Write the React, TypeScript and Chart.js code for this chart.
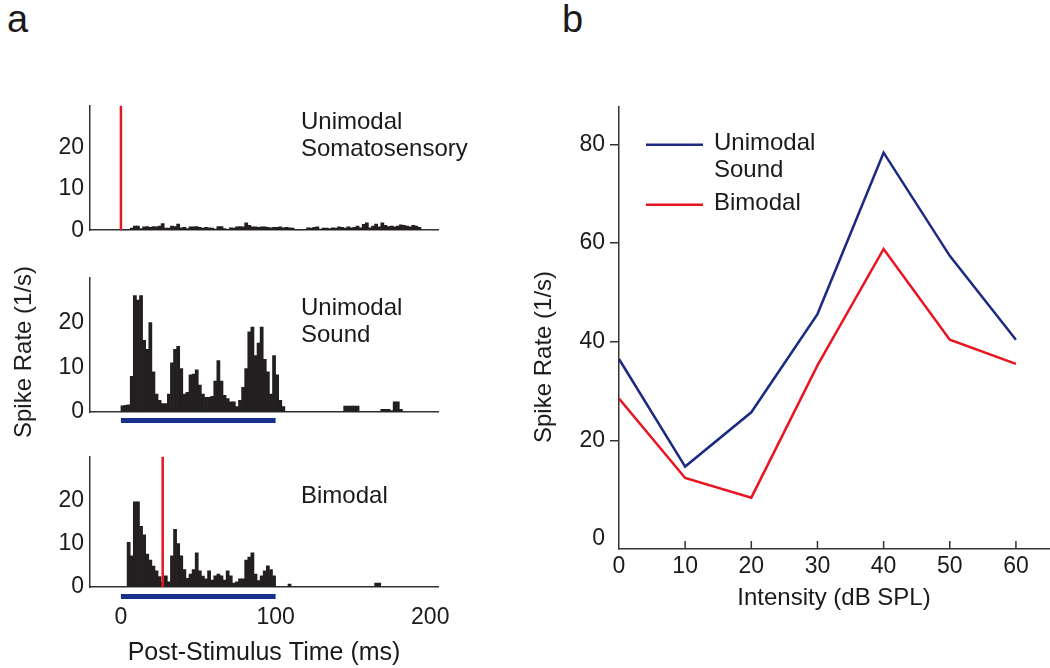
import React, { useEffect, useRef } from "react";
import { Chart, registerables } from "chart.js";
Chart.register(...registerables);

const FONT = "'Liberation Sans', Arial, Helvetica, sans-serif";
const TEXT = "#1a1a1a";
const AXIS = "#333333";
const BAR = "#231f20";
const RED = "#e8141f";
const NAVY = "#17308c";
const BLUE_LINE = "#1c2a82";

// ---------- Panel a: PSTHs (2 ms bins, first bin starts at 0 ms) ----------
const BIN_MS = 2;
const PSTH_SOMATO = [
  0, 0, 0, 0.5, 1.0, 1.0, 0.4, 0.8, 0.9, 0.7,
  0.9, 0.8, 1.0, 1.6, 0.5, 0.5, 1.0, 0.9, 1.5, 0.6,
  0.7, 0.4, 0.8, 0.8, 0.9, 0.7, 0.5, 0.7, 0.6, 0.5,
  0.3, 0.9, 0.9, 0.4, 0.2, 0.6, 0.5, 0.8, 0.9, 0.8,
  1.8, 1.2, 0.8, 0.8, 0.7, 0.8, 0.8, 0.7, 0.6, 0.7,
  0.7, 0.8, 0.6, 0.7, 0.6, 0.5, 0, 0, 0, 0.2,
  0.6, 0.5, 0.7, 0.8, 0.3, 0.5, 0.5, 0.4, 0.6, 0.5,
  0.8, 0.7, 0.5, 0.8, 0.6, 0.7, 1.0, 0.6, 1.4, 1.8,
  0.6, 1.0, 1.5, 0.8, 1.8, 1.2, 0.9, 1.0, 0.8, 1.0,
  1.3, 1.2, 1.0, 0.8, 1.2, 1.0, 0.7,
];
const PSTH_SOUND = [
  1.4, 1.5, 1.6, 8, 26, 25, 26, 16, 14, 20,
  9, 4, 2.6, 1.9, 1.9, 4, 11, 14, 14.7, 9.7,
  4, 4.4, 8.3, 8.5, 9.4, 6, 4, 3.3, 3.3, 3.5,
  6.9, 11.5, 6.9, 3.7, 3, 2.3, 2.3, 1.2, 2.6, 5.5,
  9.7, 17.9, 19, 12.6, 15.4, 19, 11.8, 9, 4, 12.6,
  8.3, 2.6, 1.2, 0, 0, 0, 0, 0, 0, 0,
  0, 0, 0, 0, 0, 0, 0, 0, 0, 0,
  0, 0, 1.3, 1.3, 1.3, 1.3, 1.3, 0, 0, 0,
  0, 0, 0, 0, 0.6, 0.6, 0.6, 0.3, 2.3, 2.3,
  0.6,
];
const PSTH_BIMODAL = [
  0, 0, 10.3, 7.2, 19.6, 19.6, 14, 12, 7.6, 6.2,
  4.8, 3.7, 2.4, 1.0, 2.6, 1.2, 7.2, 13.3, 10, 7.2,
  4, 2, 3, 4, 7.9, 3.7, 2.5, 1.9, 3.7, 1.6,
  2.6, 3, 2.6, 1.6, 3.7, 2.6, 0.9, 1.2, 1.9, 1.9,
  6.2, 6.9, 7.9, 3, 1.5, 2.6, 3.7, 4.9, 4, 2.6,
  0, 0, 0, 0, 0.7, 0, 0, 0, 0, 0,
  0, 0, 0, 0, 0, 0, 0, 0, 0, 0,
  0, 0, 0, 0, 0, 0, 0, 0, 0, 0,
  0, 0, 0.9, 0.9,
];
const PSTH_X_TICKS = [0, 100, 200];
const PSTH_Y_TICKS = [0, 10, 20];
const SOUND_STIM_MS = [0, 100];
const SOMATO_ONSET_SOMATO_PANEL = 0;
const SOMATO_ONSET_BIMODAL_PANEL = 27;

// ---------- Panel b: rate-level functions ----------
const INTENSITY_DB = [0, 10, 20, 30, 40, 50, 60];
const UNIMODAL_SOUND_RATE = [36.5, 14.7, 25.7, 45.6, 78.3, 57.4, 40.4];
const BIMODAL_RATE = [28.5, 12.4, 8.4, 35.2, 58.8, 40.4, 35.5];
const B_X_TICKS = [0, 10, 20, 30, 40, 50, 60];
const B_Y_TICKS = [0, 20, 40, 60, 80];

const psthDecor = {
  id: "psthDecor",
  afterDraw(chart: any, _args: any, opts: any) {
    const { ctx, chartArea, scales } = chart;
    const xs = scales.x;
    ctx.save();
    if (opts.marker !== null && opts.marker !== undefined) {
      const px = xs.getPixelForValue(opts.marker);
      ctx.strokeStyle = RED;
      ctx.lineWidth = 2.5;
      ctx.beginPath();
      ctx.moveTo(px, chartArea.top);
      ctx.lineTo(px, chartArea.bottom);
      ctx.stroke();
    }
    if (opts.stim) {
      const x0 = xs.getPixelForValue(opts.stim[0]);
      const x1 = xs.getPixelForValue(opts.stim[1]);
      ctx.fillStyle = NAVY;
      ctx.fillRect(x0, chartArea.bottom + opts.stimOffset, x1 - x0, 5);
    }
    if (opts.lines) {
      ctx.fillStyle = TEXT;
      ctx.font = `24px ${FONT}`;
      ctx.textBaseline = "middle";
      ctx.textAlign = "left";
      opts.lines.forEach((t: string, i: number) =>
        ctx.fillText(t, chartArea.left + opts.textDx, chartArea.top + opts.textDy + i * opts.lineGap)
      );
    }
    ctx.restore();
  },
};

function psthConfig(bins: number[], o: any): any {
  return {
    type: "bar",
    data: {
      datasets: [
        {
          data: bins.map((v, i) => ({ x: i * BIN_MS + BIN_MS / 2, y: v })),
          backgroundColor: BAR,
          borderWidth: 0,
          barPercentage: 1,
          categoryPercentage: 1,
        },
      ],
    },
    options: {
      animation: false,
      responsive: false,
      devicePixelRatio: 1,
      layout: { padding: { top: o.padTop, right: 92, left: 0, bottom: 0 } },
      plugins: {
        legend: { display: false },
        tooltip: { enabled: false },
        psthDecor: {
          marker: o.marker,
          stim: o.stim,
          stimOffset: o.stimOffset,
          lines: o.lines,
          textDx: 211,
          textDy: o.textDy,
          lineGap: 27,
        },
      },
      scales: {
        x: {
          type: "linear",
          min: -20,
          max: 205,
          offset: false,
          afterBuildTicks: (s: any) => {
            s.ticks = PSTH_X_TICKS.map((v) => ({ value: v }));
          },
          afterFit: (s: any) => {
            s.height = o.xAxisH;
          },
          grid: { display: true, drawOnChartArea: false, drawTicks: false },
          border: { display: true, color: AXIS, width: 1.5 },
          ticks: {
            display: o.showX,
            autoSkip: false,
            maxRotation: 0,
            padding: 17,
            color: TEXT,
            font: { family: FONT, size: 23 },
          },
          title: {
            display: o.showX,
            text: "Post-Stimulus Time (ms)",
            color: TEXT,
            font: { family: FONT, size: 25 },
            padding: { top: 0, bottom: 0 },
          },
        },
        y: {
          min: 0,
          max: 30,
          afterBuildTicks: (s: any) => {
            s.ticks = PSTH_Y_TICKS.map((v) => ({ value: v }));
          },
          afterFit: (s: any) => {
            s.width = 60;
          },
          grid: { display: true, drawOnChartArea: false, drawTicks: false },
          border: { display: true, color: AXIS, width: 1.5 },
          ticks: { padding: 6, color: TEXT, font: { family: FONT, size: 23 } },
        },
      },
    },
    plugins: [psthDecor],
  };
}

const bDecor = {
  id: "bDecor",
  afterDraw(chart: any) {
    const { ctx, chartArea, scales } = chart;
    ctx.save();
    // inside tick marks on x axis
    ctx.strokeStyle = AXIS;
    ctx.lineWidth = 1.5;
    B_X_TICKS.forEach((v) => {
      if (v === 0) return;
      const px = scales.x.getPixelForValue(v);
      ctx.beginPath();
      ctx.moveTo(px, chartArea.bottom);
      ctx.lineTo(px, chartArea.bottom - 8);
      ctx.stroke();
    });
    // legend
    const L = chartArea.left;
    const T = chartArea.top;
    const items = [
      { color: BLUE_LINE, y: 38, lines: ["Unimodal", "Sound"] },
      { color: RED, y: 98, lines: ["Bimodal"] },
    ];
    ctx.font = `24px ${FONT}`;
    ctx.textBaseline = "middle";
    ctx.textAlign = "left";
    items.forEach((it) => {
      ctx.strokeStyle = it.color;
      ctx.lineWidth = 2.5;
      ctx.beginPath();
      ctx.moveTo(L + 27, T + it.y);
      ctx.lineTo(L + 84, T + it.y);
      ctx.stroke();
      ctx.fillStyle = TEXT;
      it.lines.forEach((t, i) => ctx.fillText(t, L + 95, T + it.y - 1 + i * 27));
    });
    ctx.restore();
  },
};

function bConfig(): any {
  return {
    type: "line",
    data: {
      datasets: [
        {
          label: "Unimodal Sound",
          data: INTENSITY_DB.map((x, i) => ({ x, y: UNIMODAL_SOUND_RATE[i] })),
          borderColor: BLUE_LINE,
          borderWidth: 2.5,
          pointRadius: 0,
          tension: 0,
          fill: false,
        },
        {
          label: "Bimodal",
          data: INTENSITY_DB.map((x, i) => ({ x, y: BIMODAL_RATE[i] })),
          borderColor: RED,
          borderWidth: 2.5,
          pointRadius: 0,
          tension: 0,
          fill: false,
        },
      ],
    },
    options: {
      animation: false,
      responsive: false,
      devicePixelRatio: 1,
      layout: { padding: { top: 14, right: 1, left: 0, bottom: 0 } },
      plugins: { legend: { display: false }, tooltip: { enabled: false } },
      scales: {
        x: {
          type: "linear",
          min: 0,
          max: 65,
          afterBuildTicks: (s: any) => {
            s.ticks = B_X_TICKS.map((v) => ({ value: v }));
          },
          afterFit: (s: any) => {
            s.height = 119;
          },
          grid: { display: true, drawOnChartArea: false, drawTicks: false },
          border: { display: true, color: AXIS, width: 1.5 },
          ticks: {
            autoSkip: false,
            maxRotation: 0,
            padding: 4,
            color: TEXT,
            font: { family: FONT, size: 23 },
          },
          title: {
            display: true,
            text: "Intensity (dB SPL)",
            color: TEXT,
            font: { family: FONT, size: 24 },
            padding: { top: 0, bottom: 55 },
          },
        },
        y: {
          min: -2,
          max: 87.6,
          afterBuildTicks: (s: any) => {
            s.ticks = B_Y_TICKS.map((v) => ({ value: v }));
          },
          afterFit: (s: any) => {
            s.width = 59;
          },
          grid: {
            display: true,
            drawOnChartArea: false,
            drawTicks: true,
            tickLength: 9,
            lineWidth: 1.5,
            color: (c: any) => (c.tick && c.tick.value === 0 ? "rgba(0,0,0,0)" : AXIS),
          },
          border: { display: true, color: AXIS, width: 1.5 },
          ticks: { padding: 5, color: TEXT, font: { family: FONT, size: 23 } },
        },
      },
    },
    plugins: [bDecor],
  };
}

export default function App() {
  const somRef = useRef<HTMLCanvasElement>(null);
  const sndRef = useRef<HTMLCanvasElement>(null);
  const bimRef = useRef<HTMLCanvasElement>(null);
  const bRef = useRef<HTMLCanvasElement>(null);

  useEffect(() => {
    const charts = [
      new Chart(
        somRef.current as HTMLCanvasElement,
        psthConfig(PSTH_SOMATO, {
          padTop: 10,
          xAxisH: 13,
          showX: false,
          marker: SOMATO_ONSET_SOMATO_PANEL,
          stim: null,
          stimOffset: 0,
          lines: ["Unimodal", "Somatosensory"],
          textDy: 17,
        })
      ),
      new Chart(
        sndRef.current as HTMLCanvasElement,
        psthConfig(PSTH_SOUND, {
          padTop: 13,
          xAxisH: 20,
          showX: false,
          marker: null,
          stim: SOUND_STIM_MS,
          stimOffset: 6,
          lines: ["Unimodal", "Sound"],
          textDy: 31,
        })
      ),
      new Chart(
        bimRef.current as HTMLCanvasElement,
        psthConfig(PSTH_BIMODAL, {
          padTop: 10,
          xAxisH: 81,
          showX: true,
          marker: SOMATO_ONSET_BIMODAL_PANEL,
          stim: SOUND_STIM_MS,
          stimOffset: 7,
          lines: ["Bimodal"],
          textDy: 40,
        })
      ),
      new Chart(bRef.current as HTMLCanvasElement, bConfig()),
    ];
    return () => charts.forEach((c) => c.destroy());
  }, []);

  const abs = (l: number, t: number): React.CSSProperties => ({ position: "absolute", left: l, top: t, display: "block" });

  return (
    <div
      style={{
        position: "absolute",
        left: 0,
        top: 0,
        width: 1050,
        height: 668,
        background: "#fff",
        overflow: "hidden",
        fontFamily: FONT,
        color: TEXT,
      }}
    >
      <canvas ref={somRef} width={500} height={164} style={abs(30, 86)} />
      <canvas ref={sndRef} width={500} height={174} style={abs(30, 258)} />
      <canvas ref={bimRef} width={500} height={231} style={abs(30, 437)} />
      <canvas ref={bRef} width={490} height={580} style={abs(560, 88)} />
      <div style={{ position: "absolute", left: 7, top: 0, fontSize: 38, lineHeight: "38px" }}>a</div>
      <div style={{ position: "absolute", left: 562, top: 0, fontSize: 38, lineHeight: "38px" }}>b</div>
      <div
        style={{
          position: "absolute",
          left: 23,
          top: 352,
          transform: "translate(-50%, -50%) rotate(-90deg)",
          whiteSpace: "nowrap",
          fontSize: 24,
          lineHeight: "28px",
        }}
      >
        Spike Rate (1/s)
      </div>
      <div
        style={{
          position: "absolute",
          left: 543,
          top: 357,
          transform: "translate(-50%, -50%) rotate(-90deg)",
          whiteSpace: "nowrap",
          fontSize: 24,
          lineHeight: "28px",
        }}
      >
        Spike Rate (1/s)
      </div>
    </div>
  );
}
